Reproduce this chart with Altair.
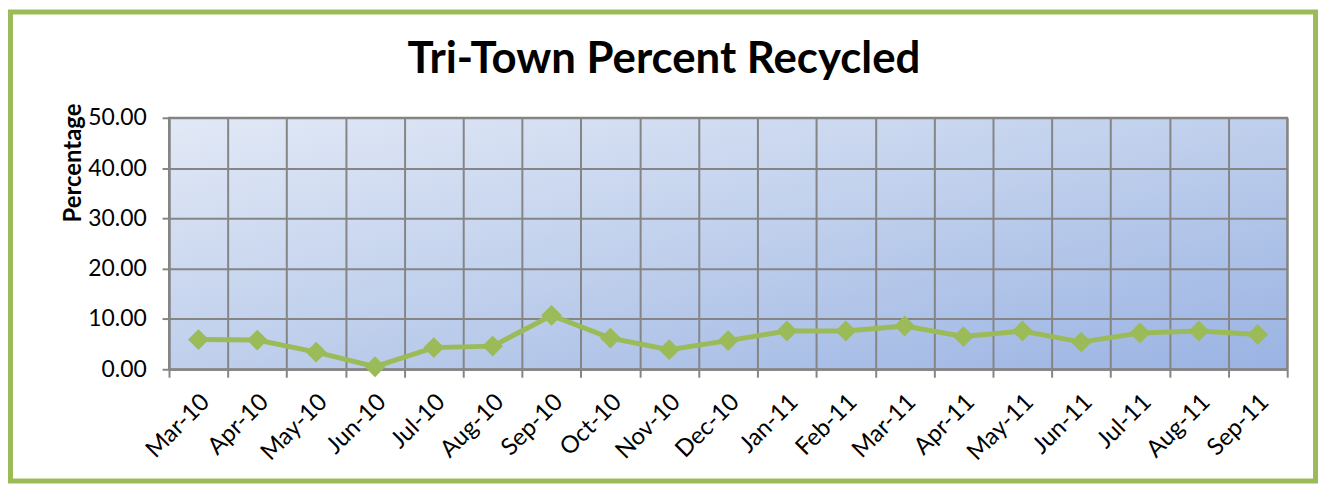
import altair as alt
import pandas as pd

months = ["Mar-10", "Apr-10", "May-10", "Jun-10", "Jul-10", "Aug-10", "Sep-10",
          "Oct-10", "Nov-10", "Dec-10", "Jan-11", "Feb-11", "Mar-11", "Apr-11",
          "May-11", "Jun-11", "Jul-11", "Aug-11", "Sep-11"]
percent = [5.9, 5.8, 3.4, 0.5, 4.3, 4.6, 10.7, 6.2, 3.9, 5.7, 7.6, 7.6, 8.6,
           6.5, 7.6, 5.4, 7.2, 7.6, 6.9]
y_ticks = [0, 10, 20, 30, 40, 50]
title_text = "Tri-Town Percent Recycled"
y_title = "Percentage"

df = pd.DataFrame({"month": months, "percent": percent})

W, H = 1125, 253
PAD_L, PAD_T = 162, 109
SVG_W, SVG_H = 1318, 477
GREEN = "#9BBB59"
GRID = "#858585"
FONT = "Lato"

x_axis = alt.Axis(
    title=None, labelAngle=-45, labelAlign="right", labelBaseline="middle",
    labelFont=FONT, labelFontSize=24, labelColor="black", labelPadding=21,
    labelOffset=7,
    tickBand="extent", grid=True, gridColor=GRID, gridWidth=2,
    tickColor=GRID, tickSize=8, tickWidth=2,
    domainColor=GRID, domainWidth=2,
)
y_axis = alt.Axis(
    values=y_ticks, format=".2f", grid=True, gridColor=GRID, gridWidth=2,
    tickColor=GRID, tickSize=7, tickWidth=2, domainColor=GRID, domainWidth=2,
    labelFont=FONT, labelFontSize=23, labelColor="black", labelPadding=16,
    title=y_title, titleFont=FONT, titleFontSize=24, titleFontWeight="bold",
    titleColor="black", titleAngle=-90, titleAlign="center",
    titleBaseline="alphabetic", titleX=-89, titleY=45,
)

x_enc = alt.X("month:N", sort=months, bandPosition=0.5,
              scale=alt.Scale(type="band", paddingInner=0, paddingOuter=0),
              axis=x_axis)
y_enc = alt.Y("percent:Q", scale=alt.Scale(domain=[0, 50], nice=False),
              axis=y_axis)

line = alt.Chart(df).mark_line(color=GREEN, strokeWidth=5).encode(x=x_enc, y=y_enc)
pts = alt.Chart(df).mark_point(shape="diamond", filled=True, size=440,
                               color=GREEN, opacity=1).encode(x=x_enc, y=y_enc)

border = alt.Chart(alt.Data(values=[{"k": 1}])).mark_rect(
    filled=False, stroke=GREEN, strokeWidth=5
).encode(
    x=alt.value(2.5 - PAD_L), x2=alt.value(SVG_W - 2.5 - PAD_L),
    y=alt.value(2.5 - PAD_T), y2=alt.value(SVG_H - 2.5 - PAD_T),
)

title = alt.Chart(alt.Data(values=[{"t": title_text}])).mark_text(
    font=FONT, fontSize=44, fontWeight="bold", color="black",
    align="center", baseline="alphabetic"
).encode(
    text="t:N", x=alt.value(668 - 8 - PAD_L), y=alt.value(72 - 8 - PAD_T),
)

gradient_expr = (
    "{gradient: 'linear', x1: 0, y1: 0, x2: 1, y2: 1, stops: ["
    "{offset: 0, color: '#E2E9F6'}, {offset: 0.5, color: '#BFCFEC'},"
    " {offset: 1, color: '#9AB3E3'}]}"
)

chart = alt.layer(border, title, line, pts).properties(
    width=W, height=H,
    padding={"left": PAD_L, "top": PAD_T, "right": SVG_W - PAD_L - W,
             "bottom": SVG_H - PAD_T - H},
    autosize=alt.AutoSizeParams(type="none"),
    background="white",
    view=alt.ViewBackground(fill={"expr": gradient_expr}, stroke=GRID,
                            strokeWidth=2),
)

chart.save("out.html", embed_options={"renderer": "svg", "actions": False})
